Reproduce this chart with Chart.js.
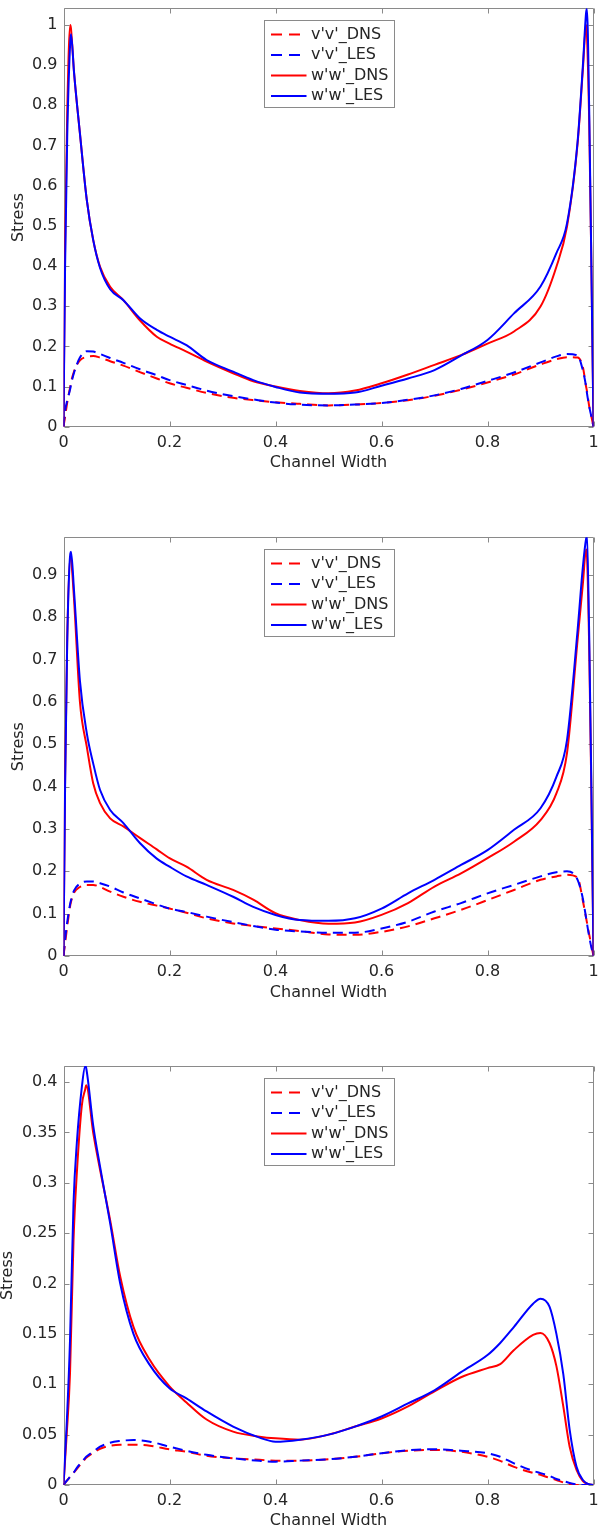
<!DOCTYPE html>
<html><head><meta charset="utf-8">
<script src="https://cdn.jsdelivr.net/npm/chart.js"></script>
<style>
html,body{margin:0;padding:0;background:#fff;width:599px;height:1532px;overflow:hidden;}
canvas{position:absolute;left:0;}
</style>
</head><body>
<canvas id="c1" width="599" height="490" style="top:0px;width:599px;height:490px"></canvas>
<canvas id="c2" width="599" height="530" style="top:490px;width:599px;height:530px"></canvas>
<canvas id="c3" width="599" height="512" style="top:1020px;width:599px;height:512px"></canvas>
<script>
// ---------- DATA ----------
const seriesNames = ["v'v'_DNS", "v'v'_LES", "w'w'_DNS", "w'w'_LES"];
const xTicks = [0, 0.2, 0.4, 0.6, 0.8, 1];
const xTickLabels = ['0', '0.2', '0.4', '0.6', '0.8', '1'];

// Plot 1
const x1 = [0,0.003,0.007,0.0128,0.0142,0.02,0.031,0.044,0.056,0.069,0.088,0.113,0.144,0.176,0.2,0.232,0.27,0.32,0.358,0.4,0.446,0.5,0.55,0.6,0.65,0.7,0.75,0.8,0.85,0.9,0.93,0.95,0.97,0.98,0.986,0.9875,0.992,0.996,1];
const vvDNS1 = [0,0.025,0.06,0.1,0.11,0.138,0.165,0.174,0.176,0.172,0.163,0.152,0.136,0.12,0.108,0.097,0.084,0.072,0.066,0.061,0.057,0.053,0.055,0.059,0.066,0.077,0.092,0.11,0.13,0.155,0.168,0.173,0.172,0.148,0.1,0.09,0.05,0.025,0];
const vvLES1 = [0,0.04,0.065,0.095,0.105,0.135,0.172,0.188,0.187,0.181,0.171,0.159,0.143,0.128,0.116,0.104,0.09,0.076,0.068,0.06,0.055,0.053,0.055,0.059,0.067,0.078,0.094,0.114,0.135,0.16,0.175,0.181,0.177,0.14,0.1,0.085,0.05,0.025,0];
const wwDNS1 = [0,0.45,0.78,1.0,0.99,0.88,0.73,0.564,0.465,0.398,0.348,0.315,0.265,0.224,0.207,0.187,0.162,0.133,0.113,0.1,0.089,0.083,0.09,0.108,0.13,0.154,0.178,0.207,0.237,0.299,0.398,0.498,0.705,0.89,1.0,0.98,0.75,0.4,0];
const wwLES1 = [0,0.4,0.72,0.96,0.977,0.88,0.73,0.564,0.465,0.395,0.342,0.315,0.27,0.241,0.224,0.203,0.166,0.137,0.116,0.099,0.085,0.082,0.085,0.102,0.12,0.141,0.177,0.216,0.282,0.349,0.432,0.506,0.71,0.9,1.03,1.04,0.78,0.4,0];
const yTicks1 = [0,0.1,0.2,0.3,0.4,0.5,0.6,0.7,0.8,0.9,1];
const yTickLabels1 = ['0','0.1','0.2','0.3','0.4','0.5','0.6','0.7','0.8','0.9','1'];
const yMax1 = 1.0415;

// Plot 2
const x2 = x1;
const vvDNS2 = [0,0.03,0.07,0.12,0.128,0.15,0.163,0.168,0.168,0.163,0.152,0.14,0.128,0.119,0.112,0.102,0.089,0.077,0.071,0.065,0.059,0.051,0.05,0.057,0.07,0.089,0.109,0.132,0.156,0.18,0.188,0.192,0.185,0.13,0.09,0.08,0.05,0.025,0];
const vvLES2 = [0,0.04,0.08,0.125,0.132,0.155,0.171,0.176,0.176,0.172,0.164,0.15,0.136,0.122,0.112,0.104,0.093,0.08,0.071,0.062,0.058,0.055,0.055,0.065,0.081,0.105,0.125,0.148,0.168,0.188,0.198,0.2,0.18,0.135,0.09,0.078,0.045,0.02,0];
const wwDNS2 = [0,0.42,0.75,0.945,0.94,0.84,0.6,0.494,0.408,0.361,0.325,0.306,0.279,0.252,0.231,0.211,0.18,0.156,0.133,0.101,0.085,0.076,0.079,0.097,0.125,0.164,0.195,0.231,0.27,0.321,0.384,0.479,0.747,0.88,0.96,0.95,0.72,0.38,0];
const wwLES2 = [0,0.4,0.74,0.95,0.955,0.86,0.65,0.526,0.455,0.392,0.345,0.314,0.267,0.23,0.211,0.188,0.168,0.14,0.116,0.097,0.085,0.083,0.089,0.112,0.148,0.18,0.215,0.25,0.298,0.349,0.423,0.51,0.77,0.92,0.985,0.99,0.75,0.4,0];
const yTicks2 = [0,0.1,0.2,0.3,0.4,0.5,0.6,0.7,0.8,0.9];
const yTickLabels2 = ['0','0.1','0.2','0.3','0.4','0.5','0.6','0.7','0.8','0.9'];
const yMax2 = 0.989;

// Plot 3
const x3 = [0,0.006,0.0123,0.0189,0.0252,0.0346,0.041,0.0428,0.056,0.069,0.088,0.107,0.132,0.163,0.2,0.232,0.27,0.32,0.37,0.4,0.446,0.5,0.55,0.6,0.65,0.7,0.75,0.8,0.824,0.85,0.886,0.9,0.917,0.93,0.943,0.955,0.968,0.98,0.99,1];
const vvDNS3 = [0,0.004,0.008,0.012,0.016,0.022,0.026,0.027,0.032,0.036,0.039,0.04,0.04,0.039,0.0354,0.033,0.029,0.0265,0.025,0.0242,0.0242,0.0255,0.028,0.0315,0.034,0.0348,0.033,0.028,0.024,0.018,0.012,0.0101,0.007,0.005,0.0025,0.001,0,0,0,0];
const vvLES3 = [0,0.004,0.008,0.012,0.017,0.023,0.027,0.028,0.033,0.038,0.042,0.0437,0.0447,0.043,0.038,0.034,0.03,0.0265,0.024,0.0232,0.0242,0.0255,0.028,0.0315,0.0345,0.0355,0.034,0.0315,0.028,0.0215,0.014,0.0118,0.009,0.006,0.004,0.002,0.0005,0,0,0];
const wwDNS3 = [0,0.05,0.111,0.243,0.31,0.377,0.393,0.397,0.35,0.313,0.263,0.207,0.157,0.124,0.098,0.082,0.065,0.053,0.048,0.0463,0.045,0.05,0.058,0.066,0.078,0.093,0.107,0.116,0.12,0.134,0.149,0.151,0.141,0.118,0.078,0.038,0.015,0.004,0.001,0];
const wwLES3 = [0,0.06,0.144,0.28,0.34,0.395,0.416,0.414,0.357,0.316,0.26,0.2,0.15,0.119,0.096,0.086,0.073,0.058,0.047,0.043,0.045,0.05,0.058,0.068,0.081,0.094,0.112,0.129,0.141,0.157,0.18,0.185,0.177,0.15,0.11,0.055,0.018,0.005,0.001,0];
const yTicks3 = [0,0.05,0.1,0.15,0.2,0.25,0.3,0.35,0.4];
const yTickLabels3 = ['0','0.05','0.1','0.15','0.2','0.25','0.3','0.35','0.4'];
const yMax3 = 0.416;

// ---------- STYLE / CHARTS ----------
Chart.defaults.font.family = "'DejaVu Sans', sans-serif";
Chart.defaults.font.size = 16;
Chart.defaults.color = '#262626';

const AXIS = '#8a8a8a';
const TXT = '#262626';

const framePlugin = {
  id: 'frame',
  beforeDatasetsDraw(chart) {
    const {ctx, chartArea: a, scales: {x, y}} = chart;
    const L = Math.round(a.left) + 0.5, R = Math.round(a.right) - 0.5;
    const T = Math.round(a.top) + 0.5, B = Math.round(a.bottom) - 0.5;
    ctx.save();
    ctx.strokeStyle = AXIS; ctx.lineWidth = 1;
    ctx.beginPath();
    ctx.rect(L, T, R - L, B - T);
    for (const t of x.ticks) {
      const p = Math.round(x.getPixelForValue(t.value)) + 0.5;
      ctx.moveTo(p, B); ctx.lineTo(p, B - 5);
      ctx.moveTo(p, T); ctx.lineTo(p, T + 5);
    }
    for (const t of y.ticks) {
      const p = Math.round(y.getPixelForValue(t.value)) + 0.5;
      ctx.moveTo(L, p); ctx.lineTo(L + 5, p);
      ctx.moveTo(R, p); ctx.lineTo(R - 5, p);
    }
    ctx.stroke();
    ctx.restore();
  }
};

const legendPlugin = {
  id: 'boxLegend',
  afterDatasetsDraw(chart) {
    const {ctx, chartArea: a} = chart;
    const ds = chart.data.datasets;
    const w = 130, h = 87;
    const left = Math.round((a.left + a.right) / 2 - w / 2) + 0.5;
    const top = Math.round(a.top + 12) + 0.5;
    ctx.save();
    ctx.fillStyle = '#fff';
    ctx.fillRect(left, top, w, h);
    ctx.strokeStyle = AXIS; ctx.lineWidth = 1;
    ctx.strokeRect(left, top, w, h);
    ds.forEach((d, i) => {
      const yy = top + 14 + i * 20.5;
      ctx.beginPath();
      ctx.strokeStyle = d.borderColor;
      ctx.lineWidth = d.borderWidth;
      ctx.setLineDash(d.borderDash && d.borderDash.length ? [11, 7] : []);
      ctx.moveTo(left + 6.5, yy); ctx.lineTo(left + 42, yy);
      ctx.stroke();
      ctx.setLineDash([]);
      ctx.fillStyle = TXT;
      ctx.font = "16px 'DejaVu Sans', sans-serif";
      ctx.textBaseline = 'middle';
      ctx.textAlign = 'left';
      ctx.fillText(d.label, left + 46.5, yy);
    });
    ctx.restore();
  }
};

function mk(xs, ys) { return xs.map((x, i) => ({x: x, y: ys[i]})); }

function makeChart(id, cfg) {
  const {xs, series, yTicks, yLabels, yMax, padTop, plotH, canvasH, yTitlePad, xTitleOff} = cfg;
  const xH = canvasH - padTop - plotH;
  const colors = ['#ff0000', '#0000ff', '#ff0000', '#0000ff'];
  const dashes = [[10, 6], [10, 6], [], []];
  const orders = [4, 3, 2, 1];
  const datasets = series.map((s, i) => ({
    label: seriesNames[i],
    data: mk(xs, s),
    borderColor: colors[i],
    backgroundColor: colors[i],
    borderWidth: 2,
    borderDash: dashes[i],
    pointRadius: 0,
    fill: false,
    cubicInterpolationMode: 'monotone',
    order: orders[i]
  }));
  return new Chart(document.getElementById(id), {
    type: 'line',
    data: {datasets},
    options: {
      responsive: false,
      animation: false,
      events: [],
      layout: {padding: {top: padTop, right: 5.5, bottom: 0, left: 0}},
      plugins: {legend: {display: false}, tooltip: {enabled: false}, title: {display: false}},
      scales: {
        x: {
          type: 'linear', min: 0, max: 1,
          grid: {display: false, drawTicks: false},
          border: {display: false},
          afterBuildTicks: s => { s.ticks = xTicks.map(v => ({value: v})); },
          afterFit: s => { s.height = xH; s.paddingLeft = 0; s.paddingRight = 0; s.paddingTop = 0; s.paddingBottom = 0; },
          ticks: {
            autoSkip: false, maxRotation: 0, padding: 6.4, color: TXT,
            font: {size: 16},
            callback: (v, i) => xTickLabels[i]
          },
          title: {
            display: true, text: 'Channel Width', color: TXT,
            font: {size: 16, lineHeight: 1},
            padding: {top: 0, bottom: xH - xTitleOff - 8}
          }
        },
        y: {
          type: 'linear', min: 0, max: yMax,
          grid: {display: false, drawTicks: false},
          border: {display: false},
          afterBuildTicks: s => { s.ticks = yTicks.map(v => ({value: v})); },
          afterFit: s => { s.width = 63.5; s.paddingLeft = 0; s.paddingRight = 0; s.paddingTop = 0; s.paddingBottom = 0; },
          ticks: {
            autoSkip: false, padding: 6, color: TXT,
            font: {size: 16},
            callback: (v, i) => yLabels[i]
          },
          title: {
            display: true, text: 'Stress', color: TXT,
            font: {size: 16, lineHeight: 1},
            padding: {top: yTitlePad, bottom: 0}
          }
        }
      }
    },
    plugins: [framePlugin, legendPlugin]
  });
}

makeChart('c1', {xs: x1, series: [vvDNS1, vvLES1, wwDNS1, wwLES1], yTicks: yTicks1, yLabels: yTickLabels1, yMax: yMax1,
  padTop: 8.3, plotH: 418.4, canvasH: 490, yTitlePad: 10.5, xTitleOff: 36.3});
makeChart('c2', {xs: x2, series: [vvDNS2, vvLES2, wwDNS2, wwLES2], yTicks: yTicks2, yLabels: yTickLabels2, yMax: yMax2,
  padTop: 47.3, plotH: 418.7, canvasH: 530, yTitlePad: 10.5, xTitleOff: 36.7});
makeChart('c3', {xs: x3, series: [vvDNS3, vvLES3, wwDNS3, wwLES3], yTicks: yTicks3, yLabels: yTickLabels3, yMax: yMax3,
  padTop: 46, plotH: 419, canvasH: 512, yTitlePad: 0.3, xTitleOff: 35.7});
</script>
</body></html>
